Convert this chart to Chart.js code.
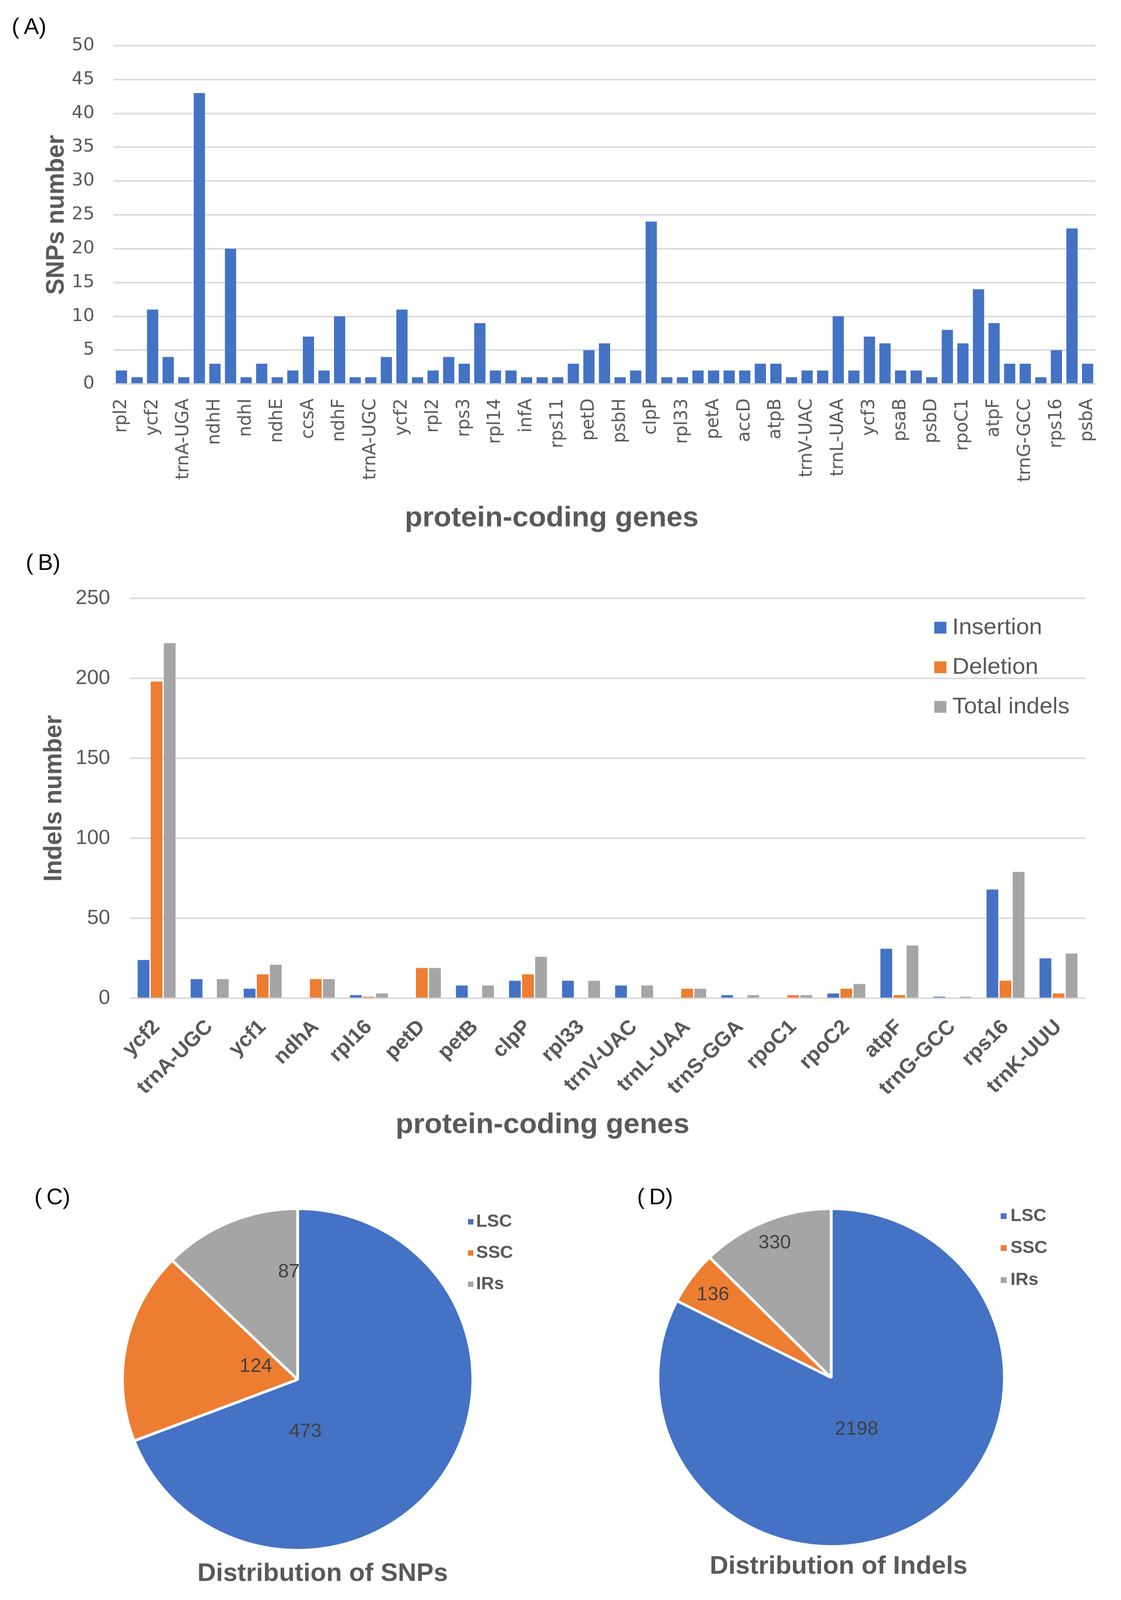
<!DOCTYPE html>
<html>
<head>
<meta charset="utf-8">
<script src="https://cdn.jsdelivr.net/npm/chart.js@4.4.1/dist/chart.umd.min.js"></script>
<style>
  html, body { margin: 0; padding: 0; background: #fff; overflow: hidden; }
  #page { width: 2870px; height: 4201px; position: relative; transform-origin: 0 0; }
  .box { position: absolute; }
  .tag { position: absolute; font: 58px/58px 'Liberation Sans', Arial, sans-serif; color: #000; white-space: pre; }
</style>
</head>
<body>
<div id="page">
<div class="tag" style="left:30px;top:40px">(&#8201;A)</div>
<div class="tag" style="left:66px;top:1447px">(&#8201;B)</div>
<div class="tag" style="left:88px;top:3113px">(&#8201;C)</div>
<div class="tag" style="left:1631px;top:3113px">(&#8201;D)</div>

<div class="box" style="left:0;top:0;width:2870px;height:1420px"><canvas id="snpChart"></canvas></div>
<div class="box" style="left:0;top:1420px;width:2870px;height:1600px"><canvas id="indelChart"></canvas></div>
<div class="box" style="left:0;top:3020px;width:1435px;height:1181px"><canvas id="snpPie"></canvas></div>
<div class="box" style="left:1435px;top:3020px;width:1435px;height:1181px"><canvas id="indelPie"></canvas></div>
</div>

<script>
// (A) SNPs per gene: only every other bar carries a name on the axis
const snpGeneNames = ['rpl2', 'ycf2', 'trnA-UGA', 'ndhH', 'ndhI', 'ndhE', 'ccsA', 'ndhF',
  'trnA-UGC', 'ycf2', 'rpl2', 'rps3', 'rpl14', 'infA', 'rps11', 'petD', 'psbH', 'clpP',
  'rpl33', 'petA', 'accD', 'atpB', 'trnV-UAC', 'trnL-UAA', 'ycf3', 'psaB', 'psbD', 'rpoC1',
  'atpF', 'trnG-GCC', 'rps16', 'psbA'];
const snpCounts = [2, 1, 11, 4, 1, 43, 3, 20, 1, 3, 1, 2, 7, 2, 10, 1, 1, 4, 11, 1, 2, 4, 3, 9,
  2, 2, 1, 1, 1, 3, 5, 6, 1, 2, 24, 1, 1, 2, 2, 2, 2, 3, 3, 1, 2, 2, 10, 2, 7, 6, 2, 2, 1, 8,
  6, 14, 9, 3, 3, 1, 5, 23, 3];
const snpTicks = [0, 5, 10, 15, 20, 25, 30, 35, 40, 45, 50];

// (B) indels per gene
const indelGenes = ['ycf2', 'trnA-UGC', 'ycf1', 'ndhA', 'rpl16', 'petD', 'petB', 'clpP', 'rpl33',
  'trnV-UAC', 'trnL-UAA', 'trnS-GGA', 'rpoC1', 'rpoC2', 'atpF', 'trnG-GCC', 'rps16', 'trnK-UUU'];
const insertions = [24, 12, 6, 0, 2, 0, 8, 11, 11, 8, 0, 2, 0, 3, 31, 1, 68, 25];
const deletions = [198, 0, 15, 12, 1, 19, 0, 15, 0, 0, 6, 0, 2, 6, 2, 0, 11, 3];
const totalIndels = [222, 12, 21, 12, 3, 19, 8, 26, 11, 8, 6, 2, 2, 9, 33, 1, 79, 28];
const indelTicks = [0, 50, 100, 150, 200, 250];

// (C) and (D) region totals
const regions = ['LSC', 'SSC', 'IRs'];
const snpByRegion = [473, 124, 87];
const indelByRegion = [2198, 136, 330];

const BLUE = '#4472C4', ORANGE = '#ED7D31', GREY = '#A5A5A5';
const TEXT = '#595959', GRID = '#D9D9D9';

// the window can be shorter than the figure; squeeze the page to fit it
const fitY = Math.min(1, window.innerHeight / 4201);
if (fitY < 1) document.getElementById('page').style.transform = 'scale(1,' + fitY + ')';

const snpLabels = snpCounts.map((v, i) => (i % 2 === 0 ? snpGeneNames[i / 2] : ''));

// square-marker legend drawn inside the plot
const boxLegend = {
  id: 'boxLegend',
  afterDraw(chart, args, o) {
    const ds = chart.data.datasets;
    const items = ds.length > 1
      ? ds.map(d => [d.label, d.backgroundColor])
      : chart.data.labels.map((l, i) => [l, ds[0].backgroundColor[i]]);
    const ctx = chart.ctx;
    ctx.save();
    ctx.font = o.font;
    ctx.textBaseline = 'middle';
    ctx.textAlign = 'left';
    items.forEach(([text, color], i) => {
      const cy = o.y + i * o.gap;
      ctx.fillStyle = color;
      ctx.fillRect(o.x, cy - o.box / 2, o.box, o.box);
      ctx.fillStyle = TEXT;
      ctx.fillText(text, o.textX, cy);
    });
    ctx.restore();
  }
};

// value labels placed inside each slice
const sliceLabels = {
  id: 'sliceLabels',
  afterDatasetsDraw(chart, args, o) {
    const ctx = chart.ctx;
    const vals = chart.data.datasets[0].data;
    ctx.save();
    ctx.font = o.font;
    ctx.fillStyle = '#404040';
    ctx.textAlign = 'center';
    ctx.textBaseline = 'middle';
    chart.getDatasetMeta(0).data.forEach((arc, i) => {
      const p = arc.getProps(['x', 'y', 'startAngle', 'endAngle', 'outerRadius'], true);
      const a = p.startAngle + (p.endAngle - p.startAngle) * o.along[i];
      const r = p.outerRadius * o.radial[i];
      ctx.fillText(String(vals[i]), p.x + Math.cos(a) * r, p.y + Math.sin(a) * r);
    });
    ctx.restore();
  }
};

const caption = {
  id: 'caption',
  afterDraw(chart, args, o) {
    const ctx = chart.ctx;
    ctx.save();
    ctx.font = o.font;
    ctx.fillStyle = TEXT;
    ctx.textAlign = 'center';
    ctx.textBaseline = 'middle';
    ctx.fillText(o.text, o.x, o.y);
    ctx.restore();
  }
};

Chart.defaults.animation = false;
Chart.defaults.color = TEXT;
Chart.defaults.plugins.legend.display = false;
Chart.defaults.plugins.tooltip.enabled = false;

// (A)
new Chart(document.getElementById('snpChart'), {
  type: 'bar',
  data: {
    labels: snpLabels,
    datasets: [{ data: snpCounts, backgroundColor: BLUE, categoryPercentage: 0.72, barPercentage: 1 }]
  },
  options: {
    responsive: true,
    maintainAspectRatio: false,
    layout: { padding: { top: 120, right: 45, left: 0, bottom: 0 } },
    plugins: {
      title: {
        display: true, position: 'bottom', text: 'protein-coding genes', color: TEXT,
        font: { family: "'Liberation Sans', Arial", size: 74, weight: 'bold', lineHeight: 1.2 },
        padding: { top: 0, bottom: 14 }
      }
    },
    scales: {
      x: {
        grid: { display: false }, border: { display: false },
        afterFit: s => { s.height = 309; },
        ticks: {
          autoSkip: false, minRotation: 90, maxRotation: 90, padding: 30, color: TEXT,
          font: { family: "'DejaVu Sans'", size: 46 }
        }
      },
      y: {
        min: 0, max: 50,
        afterFit: s => { s.width = 291; },
        afterBuildTicks: s => { s.ticks = snpTicks.map(v => ({ value: v })); },
        grid: { color: GRID, lineWidth: 4, drawTicks: false }, border: { display: false },
        ticks: { padding: 49, color: TEXT, font: { family: "'DejaVu Sans'", size: 46 } },
        title: {
          display: true, text: 'SNPs number', color: TEXT, padding: { top: 107, bottom: 0 },
          font: { family: "'Liberation Sans', Arial", size: 64, weight: 'bold', lineHeight: 1.2 }
        }
      }
    }
  }
});

// (B)
new Chart(document.getElementById('indelChart'), {
  type: 'bar',
  data: {
    labels: indelGenes,
    datasets: [
      { label: 'Insertion', data: insertions, backgroundColor: BLUE },
      { label: 'Deletion', data: deletions, backgroundColor: ORANGE },
      { label: 'Total indels', data: totalIndels, backgroundColor: GREY }
    ]
  },
  plugins: [boxLegend],
  options: {
    responsive: true,
    maintainAspectRatio: false,
    datasets: { bar: { categoryPercentage: 0.74, barPercentage: 0.9 } },
    layout: { padding: { top: 151, right: 92, left: 0, bottom: 0 } },
    plugins: {
      boxLegend: { x: 2392, textX: 2438, y: 228, gap: 104, box: 31, font: "60px 'Liberation Sans', Arial" },
      title: {
        display: true, position: 'bottom', text: 'protein-coding genes', color: TEXT,
        font: { family: "'Liberation Sans', Arial", size: 74, weight: 'bold', lineHeight: 1.2 },
        padding: { top: 0, bottom: 21 }
      }
    },
    scales: {
      x: {
        grid: { display: false }, border: { display: false },
        afterFit: s => { s.height = 289; },
        ticks: {
          autoSkip: false, minRotation: 45, maxRotation: 45, padding: 36, color: TEXT,
          font: { family: "'Liberation Sans', Arial", size: 54, weight: 'bold' }
        }
      },
      y: {
        min: 0, max: 250,
        afterFit: s => { s.width = 333; },
        afterBuildTicks: s => { s.ticks = indelTicks.map(v => ({ value: v })); },
        grid: { color: GRID, lineWidth: 4, drawTicks: false }, border: { display: false },
        ticks: { padding: 51, color: TEXT, font: { family: "'Liberation Sans', Arial", size: 53 } },
        title: {
          display: true, text: 'Indels number', color: TEXT, padding: { top: 101, bottom: 0 },
          font: { family: "'Liberation Sans', Arial", size: 64, weight: 'bold', lineHeight: 1.2 }
        }
      }
    }
  }
});

// (C)
new Chart(document.getElementById('snpPie'), {
  type: 'pie',
  data: {
    labels: regions,
    datasets: [{ data: snpByRegion, backgroundColor: [BLUE, ORANGE, GREY], borderColor: '#fff', borderWidth: 7 }]
  },
  plugins: [boxLegend, sliceLabels, caption],
  options: {
    responsive: true,
    maintainAspectRatio: false,
    layout: { padding: { left: 310, top: 150, right: 221, bottom: 127 } },
    plugins: {
      boxLegend: { x: 1198, textX: 1219, y: 188, gap: 82, box: 14, font: "bold 46px 'Liberation Sans', Arial" },
      sliceLabels: { along: [0.69, 0.59, 0.9], radial: [0.31, 0.25, 0.63], font: "50px 'Liberation Sans', Arial" },
      caption: { text: 'Distribution of SNPs', x: 826, y: 1113, font: "bold 66px 'Liberation Sans', Arial" }
    }
  }
});

// (D)
new Chart(document.getElementById('indelPie'), {
  type: 'pie',
  data: {
    labels: regions,
    datasets: [{ data: indelByRegion, backgroundColor: [BLUE, ORANGE, GREY], borderColor: '#fff', borderWidth: 7 }]
  },
  plugins: [boxLegend, sliceLabels, caption],
  options: {
    responsive: true,
    maintainAspectRatio: false,
    layout: { padding: { left: 246, top: 150, right: 295, bottom: 137 } },
    plugins: {
      boxLegend: { x: 1127, textX: 1152, y: 173, gap: 84, box: 15, font: "bold 46px 'Liberation Sans', Arial" },
      sliceLabels: { along: [0.52, 0.47, 0.5], radial: [0.34, 0.84, 0.86], font: "50px 'Liberation Sans', Arial" },
      caption: { text: 'Distribution of Indels', x: 712, y: 1094, font: "bold 66px 'Liberation Sans', Arial" }
    }
  }
});
</script>
</body>
</html>
